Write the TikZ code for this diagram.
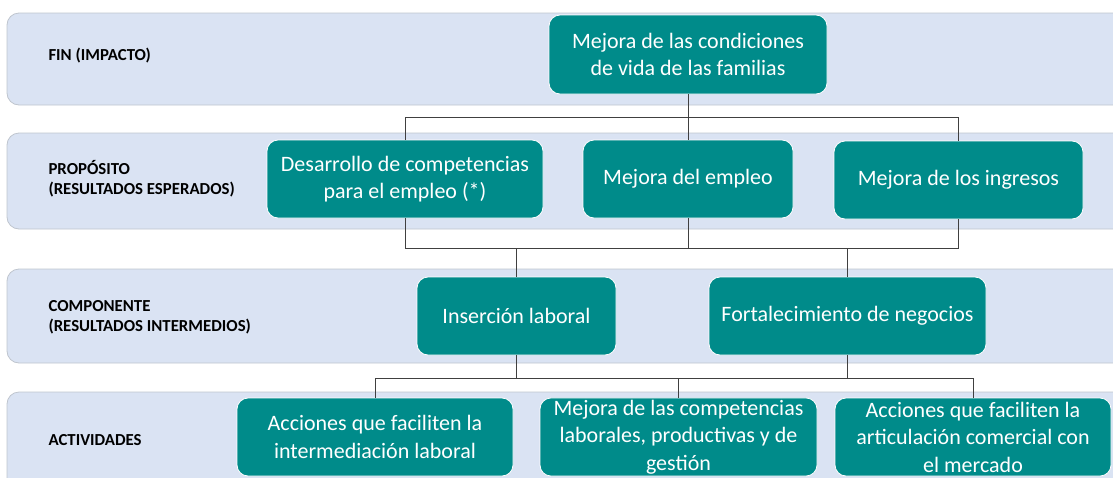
\documentclass[tikz,border=0pt]{standalone}
\usepackage{fontspec}
\setmainfont{Carlito}
\usepackage{xcolor}
\definecolor{bandblue}{HTML}{DAE3F3}
\definecolor{bandedge}{HTML}{BFC5CE}
\definecolor{tealbox}{HTML}{008B8A}
\definecolor{linkgray}{HTML}{404040}

\begin{document}
\begin{tikzpicture}[x=1pt,y=-1pt,
    band/.style={fill=bandblue,draw=bandedge,line width=0.8pt,rounded corners=12pt},
    meta/.style={fill=tealbox,draw=white,line width=0.8pt,rounded corners=11pt,text=white,
        align=center,inner sep=2pt,font=\fontsize{22}{27.5}\selectfont},
    level/.style={anchor=west,align=left,font=\bfseries\fontsize{16.8}{20.5}\selectfont},
    link/.style={draw=linkgray,line width=0.9pt}]
    \useasboundingbox (0,0) rectangle (1113,477);
    \clip (0,0) rectangle (1113,477);

    % Level bands
    \foreach \ya/\yb in {13/105,133/229,269/363,392/500}
        \draw[band] (7,\ya) rectangle (1140,\yb);

    % Level labels
    \node[level] (lfin) at (45,56) {FIN (IMPACTO)};
    \node[level] (lprop) at (45,178.5) {PROPÓSITO\\(RESULTADOS ESPERADOS)};
    \node[level] (lcomp) at (45,317.5) {COMPONENTE\\(RESULTADOS INTERMEDIOS)};
    \node[level] (lact) at (45,440) {ACTIVIDADES};

    % Goal
    \node[meta,minimum width=278pt,minimum height=79pt] (fin) at (688,54.5)
        {Mejora de las condiciones\\de vida de las familias};

    % Purposes
    \node[meta,minimum width=276pt,minimum height=78pt] (pcomp) at (405,179)
        {Desarrollo de competencias\\para el empleo (*)};
    \node[meta,minimum width=210pt,minimum height=78pt] (pempl) at (688,179)
        {Mejora del empleo};
    \node[meta,minimum width=249pt,minimum height=78pt] (pingr) at (958.5,180)
        {Mejora de los ingresos};

    % Components
    \node[meta,minimum width=199pt,minimum height=78pt] (cins) at (516.5,316)
        {Inserción laboral};
    \node[meta,minimum width=277pt,minimum height=78pt] (cneg) at (847.5,316)
        {Fortalecimiento de negocios};

    % Activities
    \node[meta,minimum width=276pt,minimum height=78pt] (ainter) at (375,437)
        {Acciones que faciliten la\\intermediación laboral};
    \node[meta,minimum width=277pt,minimum height=78pt] (acomp) at (678.5,437)
        {Mejora de las competencias\\laborales, productivas y de\\gestión};
    \node[meta,minimum width=276pt,minimum height=78pt] (aart) at (973,437)
        {Acciones que faciliten la\\articulación comercial con\\el mercado};

    % Connectors
    \coordinate (bus1) at (0,117);
    \coordinate (bus2) at (0,248);
    \coordinate (bus3) at (0,378);
    \draw[link] (fin.south) -- (fin.south |- bus1);
    \draw[link] (pcomp.north) |- (pingr.north |- bus1) -- (pingr.north);
    \draw[link] (pempl.north) -- (pempl.north |- bus1);

    \draw[link] (pcomp.south) |- (pingr.south |- bus2) -- (pingr.south);
    \draw[link] (pempl.south) -- (pempl.south |- bus2);
    \draw[link] (cins.north) -- (cins.north |- bus2);
    \draw[link] (cneg.north) -- (cneg.north |- bus2);

    \draw[link] (cins.south) -- (cins.south |- bus3);
    \draw[link] (cneg.south) -- (cneg.south |- bus3);
    \draw[link] (ainter.north) |- (aart.north |- bus3) -- (aart.north);
    \draw[link] (acomp.north) -- (acomp.north |- bus3);
\end{tikzpicture}
\end{document}
